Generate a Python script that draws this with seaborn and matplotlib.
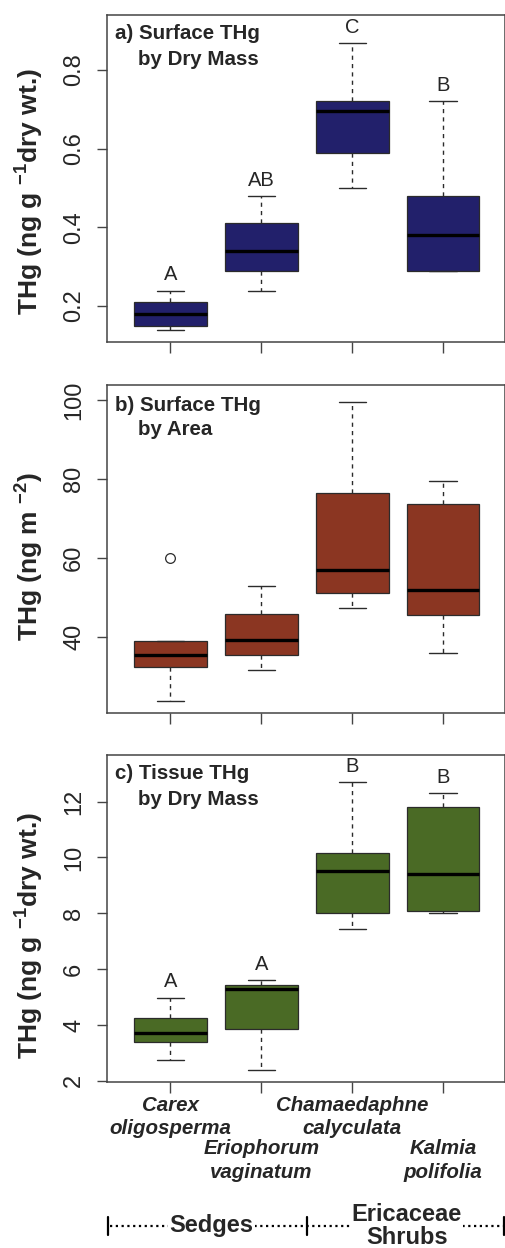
import numpy as np
import pandas as pd
import matplotlib
matplotlib.use("Agg")
import matplotlib.pyplot as plt
import matplotlib.transforms as mtransforms
import seaborn as sns

# species in plotting order
species = ["Carex oligosperma", "Eriophorum vaginatum",
           "Chamaedaphne calyculata", "Kalmia polifolia"]
upper_names = ["Carex\noligosperma", "", "Chamaedaphne\ncalyculata", ""]
lower_names = ["", "Eriophorum\nvaginatum", "", "Kalmia\npolifolia"]

# values: min, q1, median, q3, max (or outlier)
surface_dry = [[0.139, 0.149, 0.180, 0.209, 0.239],
               [0.239, 0.289, 0.340, 0.410, 0.480],
               [0.499, 0.590, 0.695, 0.720, 0.869],
               [0.289, 0.290, 0.380, 0.480, 0.720]]
surface_area = [[23.8, 32.5, 35.3, 39.0, 60.1],
                [31.6, 35.4, 39.1, 45.9, 52.9],
                [47.3, 51.2, 56.9, 76.4, 99.5],
                [35.9, 45.5, 51.9, 73.6, 79.6]]
tissue_dry = [[2.74, 3.40, 3.70, 4.24, 4.98],
              [2.38, 3.84, 5.30, 5.43, 5.60],
              [7.43, 8.00, 9.52, 10.14, 12.69],
              [8.02, 8.07, 9.42, 11.80, 12.29]]

letters_a = ["A", "AB", "C", "B"]
letters_c = ["A", "A", "B", "B"]

sns.set_theme(style="ticks")
plt.rcParams["font.family"] = ["Liberation Sans", "DejaVu Sans"]
plt.rcParams["mathtext.fontset"] = "custom"
plt.rcParams["mathtext.rm"] = "Liberation Sans:bold"
plt.rcParams["mathtext.default"] = "rm"

panels = [
    dict(vals=surface_dry, color="#22206b", letters=letters_a,
         ylim=(0.109, 0.94), yticks=[0.2, 0.4, 0.6, 0.8],
         ylabel="THg (ng g $^{-1}$dry wt.)", ylab_y=0.461,
         title=("a) Surface THg", "by Dry Mass"),
         pos=[0.2109, 0.7262, 0.787, 0.2618]),
    dict(vals=surface_area, color="#8b3622", letters=None,
         ylim=(20.8, 103.8), yticks=[40, 60, 80, 100],
         ylabel="THg (ng m $^{-2}$)", ylab_y=0.478,
         title=("b) Surface THg", "by Area"),
         pos=[0.2109, 0.4289, 0.787, 0.2626]),
    dict(vals=tissue_dry, color="#4a6a25", letters=letters_c,
         ylim=(1.97, 13.67), yticks=[2, 4, 6, 8, 10, 12],
         ylabel="THg (ng g $^{-1}$dry wt.)", ylab_y=0.447,
         title=("c) Tissue THg", "by Dry Mass"),
         pos=[0.2109, 0.1333, 0.787, 0.2618]),
]

fig = plt.figure(figsize=(5.06, 12.48), dpi=100)
edge = "#2b2b2b"
name_font = dict(fontsize=14.8, fontweight="bold", fontstyle="italic", linespacing=1.33)

for k, p in enumerate(panels):
    ax = fig.add_axes(p["pos"])
    df = pd.DataFrame([(s, v) for s, vs in zip(species, p["vals"]) for v in vs],
                      columns=["species", "value"])
    sns.boxplot(data=df, x="species", y="value", order=species, ax=ax,
                color=p["color"], saturation=1, width=0.8, whis=1.5,
                linecolor=edge, linewidth=0.9, capwidths=0.3,
                medianprops=dict(color="black", linewidth=2.4),
                whiskerprops=dict(color=edge, linestyle=(0, (3, 3)), linewidth=1),
                capprops=dict(color=edge, linewidth=1),
                flierprops=dict(marker="o", markersize=7, markerfacecolor="none",
                                markeredgecolor=edge, markeredgewidth=0.9))
    ax.set_xlim(-0.7, 3.68)
    ax.set_ylim(*p["ylim"])
    ax.set_yticks(p["yticks"])
    ax.set_yticklabels([f"{t:g}" for t in p["yticks"]])
    ax.set_xlabel("")
    for sp in ax.spines.values():
        sp.set_visible(True)
        sp.set_color("#444444")
        sp.set_linewidth(1.1)
    ax.tick_params(axis="y", labelrotation=90, labelsize=17, length=7.5,
                   width=1, color="#444444", pad=8)
    for lab in ax.get_yticklabels():
        lab.set_va("center")
    ax.tick_params(axis="x", length=8, width=1, color="#444444", pad=2)
    ax.set_ylabel(p["ylabel"], fontsize=19, fontweight="bold")
    ax.yaxis.set_label_coords(-0.1926, p["ylab_y"])
    ax.yaxis.label.set_va("center")

    ax.text(0.021, 0.942 if k != 1 else 0.937, p["title"][0], transform=ax.transAxes,
            fontsize=14.8, fontweight="bold", va="center", ha="left")
    ax.text(0.0786, 0.863, p["title"][1], transform=ax.transAxes,
            fontsize=14.8, fontweight="bold", va="center", ha="left")

    if p["letters"]:
        for i, (let, vs) in enumerate(zip(p["letters"], p["vals"])):
            ax.annotate(let, (i, max(vs)), xytext=(0, 4.5), textcoords="offset points",
                        ha="center", va="bottom", fontsize=14.5)

    if k < 2:
        ax.set_xticklabels([])
    else:
        ax.set_xticklabels(upper_names, **name_font)
        for lab in ax.get_xticklabels():
            lab.set_va("top")
        tr = mtransforms.blended_transform_factory(ax.transData, ax.transAxes)
        # second row of staggered species names
        for i, nm in enumerate(lower_names):
            if nm:
                ax.annotate(nm, (i, 0), xycoords=tr, xytext=(0, -41.6),
                            textcoords="offset points", ha="center", va="top",
                            annotation_clip=False, **name_font)
        # group bracket below the species names
        yb = -0.4417
        ax.plot([-0.66, 3.66], [yb, yb], transform=tr, clip_on=False,
                color="black", linestyle=(0, (1, 1.6)), linewidth=1.6)
        for xb in [-0.69, 1.5, 3.67]:
            ax.plot([xb, xb], [yb - 0.028, yb + 0.028], transform=tr, clip_on=False,
                    color="black", linewidth=1.6)
        ax.text(0.45, yb, "Sedges", transform=tr, ha="center", va="center",
                fontsize=17, fontweight="bold",
                bbox=dict(facecolor="white", edgecolor="none", pad=1))
        ax.text(2.6, yb, "Ericaceae\nShrubs", transform=tr, ha="center", va="center",
                fontsize=17, fontweight="bold", linespacing=0.95,
                bbox=dict(facecolor="white", edgecolor="none", pad=1))

fig.savefig("out.png", dpi=100, facecolor="white")
